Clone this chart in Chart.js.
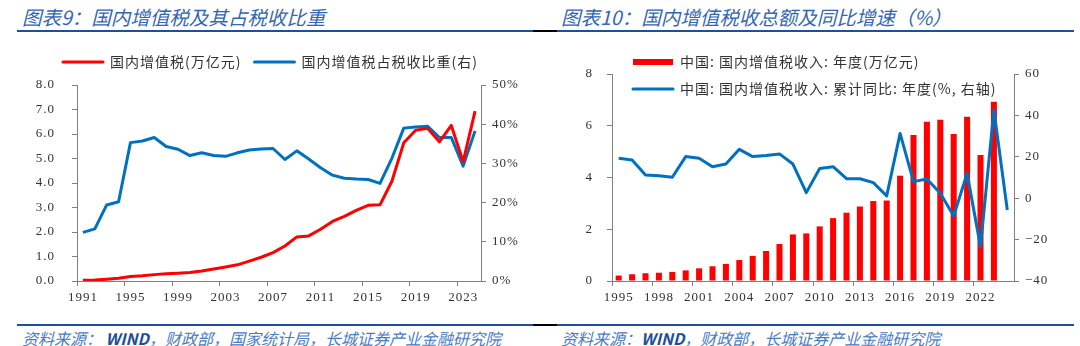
<!DOCTYPE html>
<html lang="zh-CN">
<head>
<meta charset="utf-8">
<script src="https://cdn.jsdelivr.net/npm/chart.js@4.4.1/dist/chart.umd.min.js"></script>
<style>
  html, body { margin: 0; padding: 0; background: #fff; }
  #page { position: relative; width: 1080px; height: 346px; overflow: hidden; }
  .title { position: absolute; top: 7px; font: italic 19.5px/20px "Noto Sans CJK SC", sans-serif; color: #3366B3; white-space: nowrap; }
  .rule { position: absolute; height: 2px; }
  .src { position: absolute; top: 328px; font: italic 16px/20px "Noto Sans CJK SC", sans-serif; color: #4A7CC2; white-space: nowrap; }
  .src b { color: #1F4E9A; }
  canvas { position: absolute; top: 0; }
</style>
</head>
<body>
<div id="page">
  <div class="title" style="left:22px">图表9：国内增值税及其占税收比重</div>
  <div class="title" style="left:561px">图表10：国内增值税收总额及同比增速（%）</div>
  <div class="rule" style="left:17px;width:516px;top:30px;background:#1F4E9A"></div>
  <div class="rule" style="left:533px;width:24px;top:30px;background:#000"></div>
  <div class="rule" style="left:557px;width:517px;top:30px;background:#1F4E9A"></div>
  <div class="rule" style="left:17px;width:516px;top:324px;background:#1F4E9A"></div>
  <div class="rule" style="left:533px;width:24px;top:324px;background:#000"></div>
  <div class="rule" style="left:557px;width:517px;top:324px;background:#1F4E9A"></div>
  <div class="src" style="left:22px">资料来源： <b>WIND</b>，财政部，国家统计局，长城证券产业金融研究院</div>
  <div class="src" style="left:561px">资料来源：<b>WIND</b>，财政部，长城证券产业金融研究院</div>
  <canvas id="c9" width="540" height="346" style="left:0"></canvas>
  <canvas id="c10" width="540" height="346" style="left:540px"></canvas>
</div>
<script>
// 图表9
const years9 = ['1991','1992','1993','1994','1995','1996','1997','1998','1999','2000','2001','2002',
  '2003','2004','2005','2006','2007','2008','2009','2010','2011','2012','2013','2014','2015','2016',
  '2017','2018','2019','2020','2021','2022','2023','2024'];
const vat9 = [0.03, 0.04, 0.07, 0.11, 0.18, 0.21, 0.26, 0.30, 0.32, 0.35, 0.41, 0.49, 0.57, 0.66, 0.81,
  0.97, 1.16, 1.43, 1.80, 1.84, 2.11, 2.43, 2.64, 2.88, 3.09, 3.11, 4.07, 5.64, 6.15, 6.23, 5.68, 6.35, 4.87, 6.93];
const share9 = [12.4, 13.3, 19.4, 20.2, 35.3, 35.7, 36.6, 34.3, 33.6, 32.0, 32.7, 32.0, 31.8, 32.7, 33.4,
  33.7, 33.8, 31.0, 33.2, 31.1, 28.9, 27.0, 26.2, 26.0, 25.9, 24.9, 31.3, 39.0, 39.3, 39.5, 36.6, 36.6, 29.3, 38.3];

// 图表10
const years10 = ['1995','1996','1997','1998','1999','2000','2001','2002','2003','2004','2005','2006',
  '2007','2008','2009','2010','2011','2012','2013','2014','2015','2016','2017','2018','2019','2020',
  '2021','2022','2023','2024'];
const vat10 = [0.21, 0.26, 0.30, 0.32, 0.35, 0.41, 0.49, 0.57, 0.66, 0.81, 0.97, 1.16, 1.43, 1.80, 1.84,
  2.11, 2.43, 2.64, 2.88, 3.09, 3.11, 4.07, 5.64, 6.15, 6.23, 5.68, 6.35, 4.87, 6.93];
const yoy10 = [19.3, 18.5, 11.2, 10.9, 10.1, 20.1, 19.3, 15.2, 16.5, 23.6, 20.1, 20.6, 21.4, 16.5, 2.7,
  14.3, 15.2, 9.4, 9.4, 7.5, 1.1, 31.3, 8.0, 9.3, 2.4, -8.6, 12.0, -23.4, 42.6, -5.7];

const RED = '#FF0000';
const BLUE = '#0070C0';
const AXIS = '#808080';
const TXT = '#333333';
const tickFont = { family: '"Liberation Serif", "Times New Roman", serif', size: 13 };
const legendFont = { family: '"Noto Sans CJK SC", sans-serif', size: 14 };

// legend sits at a fixed spot and takes no room from the plot
const legendAt = {
  id: 'legendAt',
  afterInit(chart) {
    const lg = chart.legend;
    const fit = lg.fit;
    lg.fit = function () { fit.call(this); this.height = 0; };
  },
  afterLayout(chart, args, o) {
    const lg = chart.legend;
    const p = lg.options.labels.padding;
    lg.left = o.x - p;
    lg.top = o.y - p;
    lg.right = chart.width;
    lg.bottom = chart.height;
    lg.width = lg.right - lg.left;
    lg.height = lg.bottom - lg.top;
  }
};

// a bit of tracking like the original
const spacing = {
  id: 'spacing',
  beforeLayout(chart) { chart.ctx.letterSpacing = '1px'; },
  beforeDraw(chart) { chart.ctx.letterSpacing = '1px'; }
};

function legendOpts() {
  return {
    position: 'top',
    align: 'start',
    labels: {
      boxWidth: 40,
      boxHeight: 0,
      padding: 13,
      color: TXT,
      font: legendFont,
      sort: (a, b) => a.datasetIndex - b.datasetIndex,
      generateLabels(chart) {
        const items = Chart.defaults.plugins.legend.labels.generateLabels(chart);
        items.forEach(it => {
          if (chart.data.datasets[it.datasetIndex].type === 'bar') {
            it.lineWidth = 6;
            it.strokeStyle = RED;
          }
        });
        return items;
      }
    }
  };
}

function xAxis(every) {
  return {
    type: 'category',
    offset: true,
    border: { color: AXIS },
    grid: {
      offset: true,
      drawOnChartArea: false,
      tickLength: 5,
      color: c => (c.index % every === 0 ? AXIS : 'rgba(0,0,0,0)')
    },
    ticks: {
      autoSkip: false,
      maxRotation: 0,
      padding: 4,
      color: TXT,
      font: tickFont,
      callback(v, i) { return i % every === 0 ? this.getLabelForValue(v) : ''; }
    },
    afterFit: s => { s.height = 65; }
  };
}

function yAxis(position, min, max, stepSize, padding, width, fmt) {
  return {
    position,
    min,
    max,
    border: { color: AXIS },
    grid: { drawOnChartArea: false, tickLength: 5, color: AXIS },
    ticks: { stepSize, padding, color: TXT, font: tickFont, callback: fmt },
    afterFit: s => { s.width = width; }
  };
}

new Chart(document.getElementById('c9'), {
  type: 'line',
  data: {
    labels: years9,
    datasets: [
      { label: '国内增值税(万亿元)', data: vat9, borderColor: RED, backgroundColor: RED,
        borderWidth: 3, pointRadius: 0, borderJoinStyle: 'round', yAxisID: 'y' },
      { label: '国内增值税占税收比重(右)', data: share9, borderColor: BLUE, backgroundColor: BLUE,
        borderWidth: 3, pointRadius: 0, borderJoinStyle: 'round', yAxisID: 'y1' }
    ]
  },
  options: {
    responsive: false,
    animation: false,
    events: [],
    layout: { padding: { top: 85, left: 0, right: 0, bottom: 0 } },
    plugins: {
      tooltip: { enabled: false },
      legend: legendOpts(),
      legendAt: { x: 63, y: 55 }
    },
    scales: {
      x: xAxis(4),
      y: yAxis('left', 0, 8, 1, 17, 77, v => v.toFixed(1)),
      y1: yAxis('right', 0, 50, 10, 6, 59, v => v + '%')
    }
  },
  plugins: [legendAt, spacing]
});

new Chart(document.getElementById('c10'), {
  type: 'bar',
  data: {
    labels: years10,
    datasets: [
      { type: 'bar', label: '中国: 国内增值税收入: 年度(万亿元)', data: vat10, backgroundColor: RED,
        borderColor: RED, borderWidth: 0, barPercentage: 0.45, categoryPercentage: 1, yAxisID: 'y', order: 1 },
      { type: 'line', label: '中国: 国内增值税收入: 累计同比: 年度(%, 右轴)', data: yoy10, borderColor: BLUE,
        backgroundColor: BLUE, borderWidth: 3, pointRadius: 0, borderJoinStyle: 'round', yAxisID: 'y1', order: 0 }
    ]
  },
  options: {
    responsive: false,
    animation: false,
    events: [],
    layout: { padding: { top: 74, left: 0, right: 0, bottom: 0 } },
    plugins: {
      tooltip: { enabled: false },
      legend: legendOpts(),
      legendAt: { x: 93, y: 55 }
    },
    scales: {
      x: xAxis(3),
      y: yAxis('left', 0, 8, 2, 14, 72, v => String(v)),
      y1: yAxis('right', -40, 60, 20, 6, 66, v => (v < 0 ? '\u2212' + (-v) : String(v)))
    }
  },
  plugins: [legendAt, spacing]
});
</script>
</body>
</html>
